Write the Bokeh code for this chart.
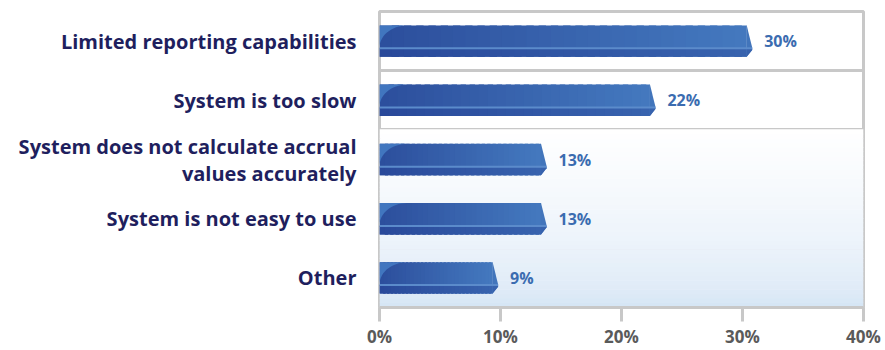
import numpy as np
from bokeh.plotting import figure
from bokeh.models import Range1d, FixedTicker, ColumnDataSource
from bokeh.core.properties import value
from bokeh.embed import file_html
from bokeh.resources import INLINE

categories = ["Limited reporting capabilities", "System is too slow",
              "System does not calculate accrual\nvalues accurately",
              "System is not easy to use", "Other"]
values = [30, 22, 13, 13, 9]
value_labels = ["30%", "22%", "13%", "13%", "9%"]
x_ticks = [0, 10, 20, 30, 40]
x_tick_labels = ["0%", "10%", "20%", "30%", "40%"]

n = len(categories)
ypos = [n - i - 0.5 for i in range(n)]

p = figure(width=885, height=350, output_backend="svg", toolbar_location=None,
           x_range=Range1d(0, 40), y_range=Range1d(0, n),
           min_border_left=379, min_border_right=22, min_border_top=11, min_border_bottom=40)
p.background_fill_color = "white"
p.border_fill_color = "white"
p.outline_line_color = "#c8c8c8"
p.outline_line_width = 3

def mix(c1, c2, t):
    a = np.array([int(c1[i:i+2], 16) for i in (1, 3, 5)], float)
    b = np.array([int(c2[i:i+2], 16) for i in (1, 3, 5)], float)
    c = a + (b - a) * t
    return "#%02x%02x%02x" % tuple(int(round(v)) for v in c)

# background gradient (styling only)
NB = 40
bb = np.linspace(0, 3, NB + 1)
bg_cols = [mix("#d2e3f4", "#ffffff", min(1, ((bb[k] + bb[k+1]) / 2 / 3) ** 0.55)) for k in range(NB)]
p.quad(left=0, right=40, bottom=bb[:-1], top=bb[1:] + 0.01, fill_color=bg_cols, line_color=None)

# bars drawn as gradient slices
H = 0.53
NS = 30
PAD = 0.35
FACE = 0.27
L, R, B, T, C = [], [], [], [], []
SL, SR, SB, ST, SC = [], [], [], [], []
for v, y in zip(values, ypos):
    ext = v + PAD
    for k in range(NS):
        l = ext * k / NS
        r = ext * (k + 1) / NS + (ext / NS * 0.6 if k < NS - 1 else 0)
        t = (k + 0.5) / NS
        L.append(l); R.append(r); B.append(y - H / 2); T.append(y + H / 2)
        C.append(mix("#2c4e9c", "#4479bf", t))
        SL.append(l); SR.append(r); SB.append(y - H / 2); ST.append(y - H / 2 + H * FACE)
        SC.append(mix("#29499a", "#3863ae", t))
p.quad(left=L, right=R, bottom=B, top=T, fill_color=C, line_color=None)
p.quad(left=SL, right=SR, bottom=SB, top=ST, fill_color=SC, line_color=None)

# slanted bar tips
tip_xs, tip_ys = [], []
for v, y in zip(values, ypos):
    e = v + PAD
    tip_xs.append([e - 0.02, e, e + 0.45, e + 0.45, e, e - 0.02])
    tip_ys.append([y + H / 2, y + H / 2, y - H / 2 + H * 0.3, y - H / 2 + H * 0.22, y - H / 2, y - H / 2])
p.patches(xs=tip_xs, ys=tip_ys, fill_color="#4275bb", line_color=None)
tip2_xs, tip2_ys = [], []
for v, y in zip(values, ypos):
    e = v + PAD
    tip2_xs.append([e - 0.02, e + 0.45, e + 0.45, e, e - 0.02])
    tip2_ys.append([y - H / 2 + H * FACE, y - H / 2 + H * FACE, y - H / 2 + H * 0.22, y - H / 2, y - H / 2])
p.patches(xs=tip2_xs, ys=tip2_ys, fill_color="#3762ad", line_color=None)

# highlight line on the bottom face
hl = ColumnDataSource(dict(x0=[0]*n, x1=[v + PAD + 0.45 for v in values],
                           y=[y - H / 2 + H * FACE for y in ypos]))
p.segment(x0="x0", x1="x1", y0="y", y1="y", source=hl, line_color="#5b8bcb", line_width=2)

# lighter top-left corner outside a rounded dark tab (styling only)
TW = 2.3
phi = np.linspace(np.pi, np.pi / 2, 16)
cx_arc = TW + TW * np.cos(phi)
c_xs, c_ys = [], []
for y in ypos:
    top = y + H / 2
    y0 = y - H / 2 + H * FACE + 0.01
    ry = top - y0
    c_xs.append([0.0] + list(cx_arc))
    c_ys.append([top] + list(y0 + ry * np.sin(phi)))
p.patches(xs=c_xs, ys=c_ys, fill_color="#4176bf", line_color=None)

# value labels
src = ColumnDataSource(dict(x=[v + PAD + 0.45 for v in values], y=ypos, t=value_labels))
p.text(x="x", y="y", text="t", source=src, x_offset=12, text_baseline="middle",
       text_align="left", text_color="#3b6cb0", text_font=value("Open Sans"),
       text_font_style="bold", text_font_size="16px")

# grid: row separators
p.xgrid.visible = False
p.ygrid.ticker = FixedTicker(ticks=[1, 2, 3, 4])
p.ygrid.grid_line_color = "#c8c8c8"
p.ygrid.grid_line_width = 3

# y axis
p.yaxis.ticker = FixedTicker(ticks=ypos)
p.yaxis.major_label_overrides = {y: c for y, c in zip(ypos, categories)}
p.yaxis.axis_line_color = None
p.yaxis.major_tick_line_color = None
p.yaxis.minor_tick_line_color = None
p.yaxis.major_label_text_font = "Open Sans"
p.yaxis.major_label_text_font_style = "bold"
p.yaxis.major_label_text_font_size = "20px"
p.yaxis.major_label_text_color = "#1f1f5e"
p.yaxis.major_label_standoff = 17
p.yaxis.major_label_text_line_height = 1.0

# x axis
p.xaxis.ticker = FixedTicker(ticks=x_ticks)
p.xaxis.major_label_overrides = {t: l for t, l in zip(x_ticks, x_tick_labels)}
p.xaxis.axis_line_color = "#c8c8c8"
p.xaxis.axis_line_width = 3
p.xaxis.major_tick_line_color = "#c8c8c8"
p.xaxis.major_tick_line_width = 3
p.xaxis.major_tick_in = 0
p.xaxis.major_tick_out = 14
p.xaxis.minor_tick_line_color = None
p.xaxis.major_label_text_font = "Open Sans"
p.xaxis.major_label_text_font_style = "bold"
p.xaxis.major_label_text_font_size = "17px"
p.xaxis.major_label_text_color = "#5a5a5a"
p.xaxis.major_label_standoff = 3

open("out.html", "w").write(file_html(p, INLINE))
